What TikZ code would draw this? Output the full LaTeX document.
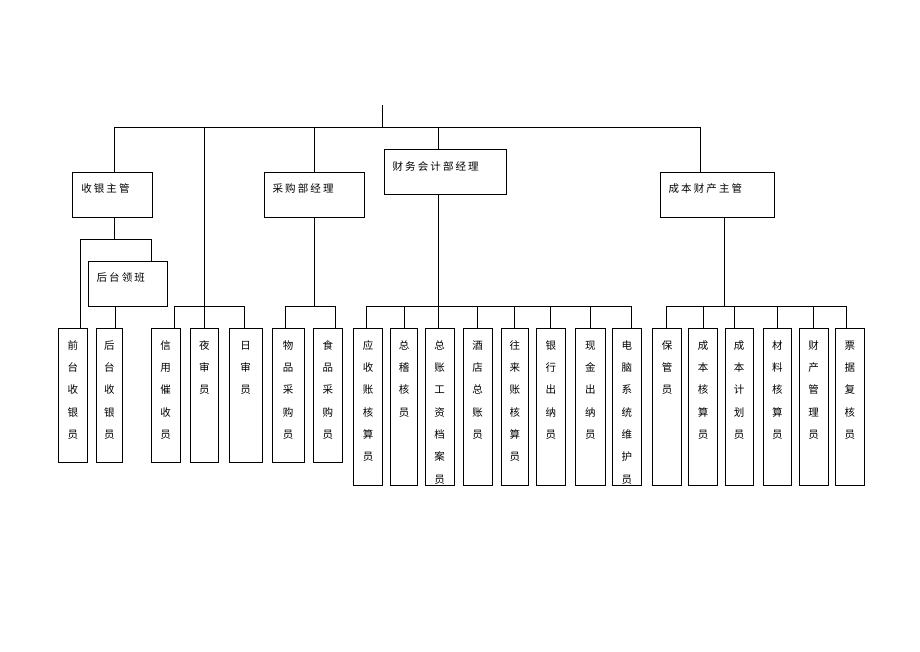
\documentclass[tikz,border=0pt]{standalone}
\usepackage{fontspec}
\newfontfamily\cjk[LetterSpace=20]{Noto Sans CJK SC}

\begin{document}
\begin{tikzpicture}[x=1pt,y=-1pt,line width=0.9pt]

\tikzset{head/.style = {draw, anchor=north west, inner xsep=8.5pt, inner ysep=0pt, text height=20.5pt, align=left, font=\cjk\fontsize{10.5}{13}\selectfont}}
\tikzset{col/.style = {draw, anchor=north, inner sep=0pt, minimum width=28.5pt, text width=26pt, text height=20.5pt, text depth=113.5pt, align=center, font=\cjk\fontsize{10.5}{22.3}\selectfont}}
\tikzset{tall/.style = {col, text depth=136.2pt}}

\useasboundingbox (0,0) rectangle (920,651);

%managers
\node[head, text width=62.4pt, text depth=24.2pt] (sy) at (72.3,172) {收银主管};
\node[head, text width=83.3pt, text depth=24.2pt] (cg) at (263.7,172) {采购部经理};
\node[head, text width=105pt, text depth=24.5pt] (cw) at (383.7,149.3) {财务会计部经理};
\node[head, text width=97.6pt, text depth=24.2pt] (cb) at (659.7,172) {成本财产主管};
\node[head, text width=62.6pt, text depth=24.5pt] (hl) at (87.7,261) {后台领班};

%staff
\node[col] (qt) at (72.8,328.3) {前\\台\\收\\银\\员};
\node[col, minimum width=26.7pt] (ht) at (109.4,328.3) {后\\台\\收\\银\\员};
\node[col] (xy) at (165.7,328.3) {信\\用\\催\\收\\员};
\node[col] (ys) at (204.3,328.3) {夜\\审\\员};
\node[col, minimum width=33pt] (rs) at (245.5,328.3) {日\\审\\员};
\node[col, minimum width=32pt] (wp) at (288,328.3) {物\\品\\采\\购\\员};
\node[col, minimum width=29.7pt] (sp) at (327.9,328.3) {食\\品\\采\\购\\员};
\node[tall] (ysh) at (368,328.3) {应\\收\\账\\核\\算\\员};
\node[tall, minimum width=26.6pt] (zj) at (404,328.3) {总\\稽\\核\\员};
\node[tall] (zz) at (439.7,328.3) {总\\账\\工\\资\\档\\案\\员};
\node[tall, minimum width=29.3pt] (jd) at (477.7,328.3) {酒\\店\\总\\账\\员};
\node[tall, minimum width=27.7pt] (wl) at (514.9,328.3) {往\\来\\账\\核\\算\\员};
\node[tall] (yh) at (550.9,328.3) {银\\行\\出\\纳\\员};
\node[tall, minimum width=29.3pt] (xj) at (590.4,328.3) {现\\金\\出\\纳\\员};
\node[tall] (dn) at (626.9,328.3) {电\\脑\\系\\统\\维\\护\\员};
\node[tall, minimum width=29pt] (bg) at (667.2,328.3) {保\\管\\员};
\node[tall] (cbh) at (703,328.3) {成\\本\\核\\算\\员};
\node[tall] (jh) at (739.2,328.3) {成\\本\\计\\划\\员};
\node[tall, minimum width=28.7pt] (cl) at (777.4,328.3) {材\\料\\核\\算\\员};
\node[tall, minimum width=28.7pt] (cc) at (813.7,328.3) {财\\产\\管\\理\\员};
\node[tall, minimum width=29pt] (pj) at (849.8,328.3) {票\\据\\复\\核\\员};

%top bus
\coordinate (root) at (382.3,105);
\coordinate (b1) at (114.3,127.3);
\coordinate (b2) at (204.3,127.3);
\coordinate (b3) at (438.3,127.3);
\coordinate (b4) at (700.3,127.3);
\draw (root) -- (root |- b1);
\draw (b1) -- (b4);
\draw (b1) -- (b1 |- sy.north);
\draw (b2) -- (b2 |- ys.north);
\draw (cg.north |- b1) -- (cg.north);
\draw (b3) -- (b3 |- cw.north);
\draw (b4) -- (b4 |- cb.north);

%cashier
\coordinate (s1) at (80,239);
\coordinate (s2) at (151.3,239);
\coordinate (s3) at (115,306);
\draw (b1 |- sy.south) -- (b1 |- s1);
\draw (s1 |- qt.north) -- (s1) -- (s2) -- (s2 |- hl.north);
\draw (s3) -- (s3 |- ht.north);

%night audit
\coordinate (y1) at (174,306);
\coordinate (y2) at (244.3,306);
\draw (y1 |- xy.north) -- (y1) -- (y2) -- (y2 |- rs.north);

%purchasing
\coordinate (c1) at (285.7,306);
\coordinate (c2) at (335.3,306);
\draw (cg.south) -- (cg.south |- c1);
\draw (c1 |- wp.north) -- (c1) -- (c2) -- (c2 |- sp.north);

%finance
\coordinate (f1) at (366.7,306);
\coordinate (f8) at (631,306);
\draw (b3 |- cw.south) -- (b3 |- zz.north);
\draw (f1 |- ysh.north) -- (f1) -- (f8) -- (f8 |- dn.north);
\draw (f1 -| zj.north) -- (zj.north) (f1 -| jd.north) -- (jd.north)
      (f1 -| wl.north) -- (wl.north) (f1 -| yh.north) -- (yh.north)
      (f1 -| xj.north) -- (xj.north);

%cost
\coordinate (k0) at (724.3,306);
\coordinate (k1) at (666.7,306);
\coordinate (k2) at (846,306);
\coordinate (k3) at (734.7,306);
\draw (k0 |- cb.south) -- (k0);
\draw (k1 |- bg.north) -- (k1) -- (k2) -- (k2 |- pj.north);
\draw (k1 -| cbh.north) -- (cbh.north) (k3) -- (k3 |- jh.north)
      (k1 -| cl.north) -- (cl.north) (k1 -| cc.north) -- (cc.north);

\end{tikzpicture}
\end{document}
